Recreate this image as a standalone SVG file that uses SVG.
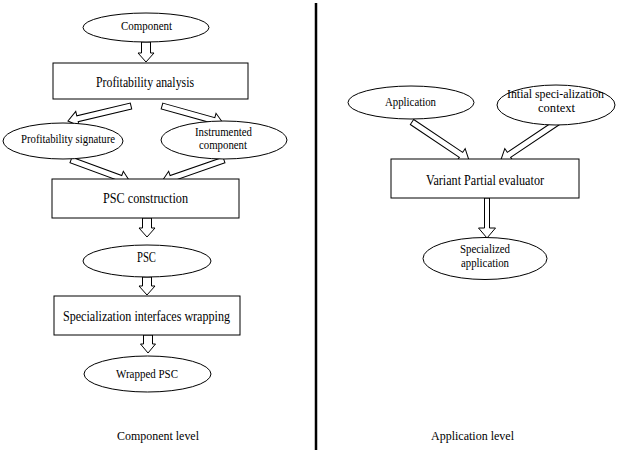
<svg xmlns="http://www.w3.org/2000/svg" width="620" height="450" viewBox="0 0 620 450">
<style>
.n{fill:#fff;stroke:#000;stroke-width:1}
.a{fill:#fff;stroke:#000;stroke-width:1;stroke-linejoin:miter}
text{font-family:"Liberation Serif","Times New Roman",serif;fill:#000;text-anchor:middle}
.b{font-size:14px}
.e{font-size:12.5px}
.l{font-size:13px}
</style>
<rect width="620" height="450" fill="#fff"/>
<line x1="316" y1="3" x2="316" y2="450" stroke="#000" stroke-width="2.5"/>
<g id="connectors">
<path class="a" transform="translate(146,42)" d="M-4.5,0 V11 H-8 L0,20 L8,11 H4.5 V0 Z"/>
<path class="a" transform="translate(131,106) rotate(166.6)" d="M0,-3 H55 V-7.5 L64.8,0 L55,7.5 V3 H0 Z"/>
<path class="a" transform="translate(162,106) rotate(15.6)" d="M0,-3 H54 V-7.5 L63.3,0 L54,7.5 V3 H0 Z"/>
<path class="a" transform="translate(71,160) rotate(20.2)" d="M0,-3 H53 V-7.5 L62.9,0 L53,7.5 V3 H0 Z"/>
<path class="a" transform="translate(224,160) rotate(160.8)" d="M0,-3 H56 V-7.5 L66,0 L56,7.5 V3 H0 Z"/>
<path class="a" transform="translate(147,218)" d="M-4.5,0 V10 H-8 L0,19 L8,10 H4.5 V0 Z"/>
<path class="a" transform="translate(147,277)" d="M-4.5,0 V9 H-8 L0,18 L8,9 H4.5 V0 Z"/>
<path class="a" transform="translate(148,335)" d="M-4.5,0 V9 H-7.5 L0,18 L7.5,9 H4.5 V0 Z"/>
<path class="a" transform="translate(412,122) rotate(33.9)" d="M0,-3 H59 V-7.5 L68.7,0 L59,7.5 V3 H0 Z"/>
<path class="a" transform="translate(558,122) rotate(146.2)" d="M0,-3 H59 V-7.5 L68.9,0 L59,7.5 V3 H0 Z"/>
<path class="a" transform="translate(487,198)" d="M-2.5,0 V30 H-8.5 L0,40 L8.5,30 H2.5 V0 Z"/>
</g>
<g id="component"><ellipse class="n" cx="146" cy="27.5" rx="63" ry="14.5"/><text class="e" x="146.5" y="29.5" textLength="51" lengthAdjust="spacingAndGlyphs">Component</text></g>
<g id="profitability-analysis"><rect class="n" x="53" y="63" width="195" height="36"/><text class="b" x="145" y="87" textLength="98" lengthAdjust="spacingAndGlyphs">Profitability analysis</text></g>
<g id="profitability-signature"><ellipse class="n" cx="63" cy="141" rx="60" ry="18"/><text class="e" x="68" y="142.5" textLength="94" lengthAdjust="spacingAndGlyphs">Profitability signature</text></g>
<g id="instrumented-component"><ellipse class="n" cx="224" cy="140" rx="63" ry="19"/><text class="e" x="223.5" y="136" textLength="57" lengthAdjust="spacingAndGlyphs">Instrumented</text><text class="e" x="223" y="148.5" textLength="48" lengthAdjust="spacingAndGlyphs">component</text></g>
<g id="psc-construction"><rect class="n" x="52" y="179" width="187" height="39"/><text class="b" x="145.5" y="203" textLength="85" lengthAdjust="spacingAndGlyphs">PSC construction</text></g>
<g id="psc"><ellipse class="n" cx="147" cy="261" rx="64" ry="16"/><text class="b" x="146.5" y="262" textLength="19" lengthAdjust="spacingAndGlyphs">PSC</text></g>
<g id="specialization-interfaces-wrapping"><rect class="n" x="54" y="296" width="186" height="39"/><text class="b" x="146.5" y="320.5" textLength="167" lengthAdjust="spacingAndGlyphs">Specialization interfaces wrapping</text></g>
<g id="wrapped-psc"><ellipse class="n" cx="147.5" cy="374" rx="63.5" ry="18"/><text class="e" x="147" y="378" textLength="62" lengthAdjust="spacingAndGlyphs">Wrapped PSC</text></g>
<g id="application"><ellipse class="n" cx="411" cy="102.5" rx="63" ry="16.5"/><text class="e" x="410.5" y="106" textLength="51" lengthAdjust="spacingAndGlyphs">Application</text></g>
<g id="initial-context"><ellipse class="n" cx="556" cy="105" rx="59" ry="20"/><text class="e" x="555.5" y="97.5" textLength="97" lengthAdjust="spacingAndGlyphs">Intial speci-alization</text><text class="e" x="556.5" y="111.5" textLength="37" lengthAdjust="spacingAndGlyphs">context</text></g>
<g id="variant-partial-evaluator"><rect class="n" x="391" y="159" width="188" height="39"/><text class="b" x="485" y="185" textLength="118" lengthAdjust="spacingAndGlyphs">Variant Partial evaluator</text></g>
<g id="specialized-application"><ellipse class="n" cx="485" cy="258.5" rx="62" ry="21"/><text class="e" x="485" y="252.5" textLength="50" lengthAdjust="spacingAndGlyphs">Specialized</text><text class="e" x="485" y="267" textLength="48" lengthAdjust="spacingAndGlyphs">application</text></g>
<g id="component-level"><text class="l" x="158" y="440" textLength="82" lengthAdjust="spacingAndGlyphs">Component level</text></g>
<g id="application-level"><text class="l" x="472.5" y="440" textLength="83" lengthAdjust="spacingAndGlyphs">Application level</text></g>
</svg>
